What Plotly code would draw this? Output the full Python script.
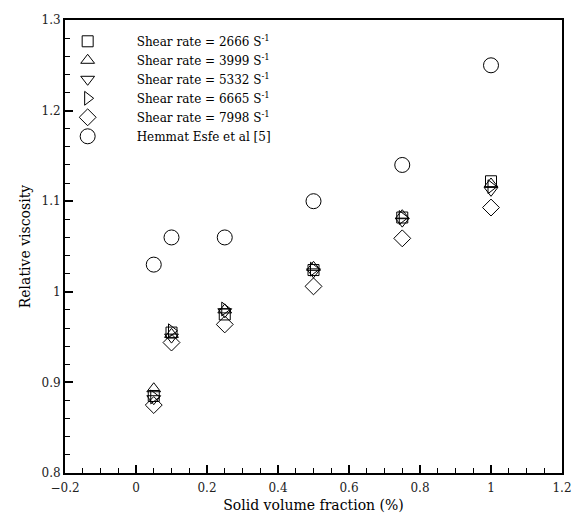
import plotly.graph_objects as go

# Solid volume fraction (%) for each measurement
phi = [0.05, 0.1, 0.25, 0.5, 0.75, 1.0]

# Relative viscosity at each shear rate
mu_2666 = [0.885, 0.955, 0.975, 1.024, 1.082, 1.122]
mu_3999 = [0.893, 0.953, 0.980, 1.027, 1.084, 1.119]
mu_5332 = [0.882, 0.950, 0.978, 1.022, 1.078, 1.112]
mu_6665 = [0.884, 0.957, 0.981, 1.025, 1.082, 1.116]
mu_7998 = [0.875, 0.944, 0.964, 1.006, 1.059, 1.093]
mu_hemmat = [1.030, 1.060, 1.060, 1.100, 1.140, 1.250]

series_names = [
    "Shear rate = 2666 S<sup>-1</sup>",
    "Shear rate = 3999 S<sup>-1</sup>",
    "Shear rate = 5332 S<sup>-1</sup>",
    "Shear rate = 6665 S<sup>-1</sup>",
    "Shear rate = 7998 S<sup>-1</sup>",
    "Hemmat Esfe et al [5]",
]
series_values = [mu_2666, mu_3999, mu_5332, mu_6665, mu_7998, mu_hemmat]
symbols = ["square-open", "triangle-up-open", "triangle-down-open",
           "triangle-right-open", "diamond-open", "circle-open"]
sizes = [11, 12, 12, 12, 13, 15]

font_family = "DejaVu Serif"

fig = go.Figure()
for name, vals, sym, sz in zip(series_names, series_values, symbols, sizes):
    fig.add_trace(go.Scatter(
        x=phi, y=vals, mode="markers", name=name,
        marker=dict(symbol=sym, size=sz, color="black",
                    line=dict(color="black", width=1)),
    ))

axis_common = dict(
    showgrid=False, zeroline=False, automargin=False,
    showline=True, linecolor="black", linewidth=2, mirror=True,
    ticks="inside", ticklen=8, tickwidth=2, tickcolor="black",
    tickfont=dict(family=font_family, size=12, color="#222"),
)

fig.update_xaxes(
    range=[-0.2, 1.2], dtick=0.2, tick0=-0.2,
    minor=dict(dtick=0.05, ticks="inside", ticklen=5, tickwidth=1, tickcolor="black"),
    ticklabelstandoff=3,
    title=dict(text="Solid volume fraction (%)", standoff=6,
               font=dict(family=font_family, size=14, color="black")),
    **axis_common,
)
fig.update_yaxes(
    range=[0.8, 1.3], dtick=0.1, tick0=0.8,
    minor=dict(dtick=0.02, ticks="inside", ticklen=5, tickwidth=1, tickcolor="black"),
    title=dict(text="Relative viscosity", standoff=8,
               font=dict(family=font_family, size=14, color="black")),
    **axis_common,
)

fig.update_layout(
    width=572, height=513,
    margin=dict(l=65, r=10, t=20, b=40),
    plot_bgcolor="white", paper_bgcolor="white",
    font=dict(family=font_family, color="black"),
    legend=dict(
        x=-0.053, y=0.985, xanchor="left", yanchor="top",
        bgcolor="rgba(0,0,0,0)", borderwidth=0,
        itemwidth=88, tracegroupgap=0,
        font=dict(family=font_family, size=12, color="black"),
    ),
    showlegend=True,
)

fig.write_html("out.html")
